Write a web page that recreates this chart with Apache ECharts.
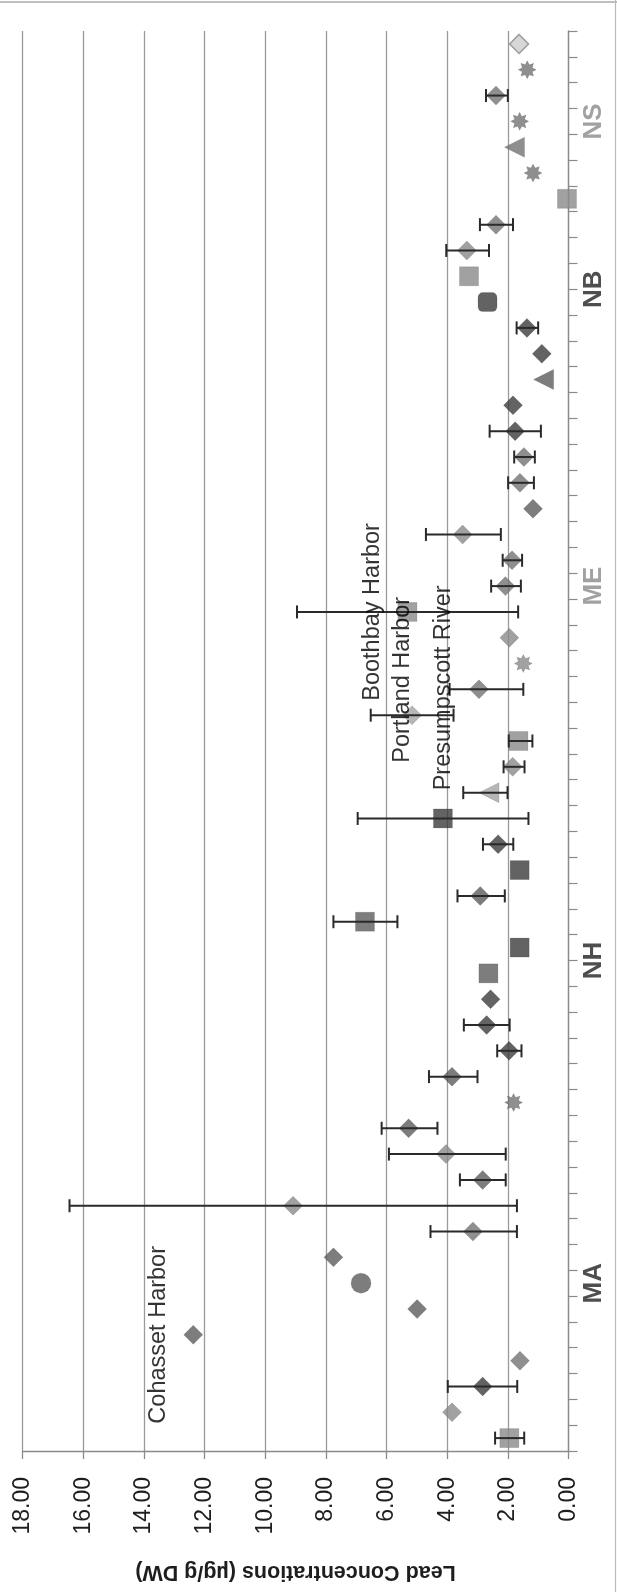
<!DOCTYPE html>
<html>
<head>
<meta charset="utf-8">
<script src="https://cdn.jsdelivr.net/npm/echarts@6/dist/echarts.min.js"></script>
<style>
html,body{margin:0;padding:0;background:#fff;}
#chart{width:617px;height:1592px;}
</style>
</head>
<body>
<div id="chart"></div>
<script>
// ---------- data ----------
const regions = ['MA', 'NH', 'ME', 'NB', 'NS'];
const regionSizes = [13, 12, 17, 6, 7];

// lead concentration (µg/g DW), one per site, MA first
const values = [
  1.95, 3.84, 2.83, 1.60, 12.37, 4.99, 6.84, 7.75, 3.15, 9.08, 2.83, 4.04, 5.27,
  1.81, 3.84, 1.96, 2.70, 2.57, 2.64, 1.61, 6.71, 2.91, 1.61, 2.32, 4.14,
  2.62, 1.84, 1.65, 5.16, 2.95, 1.49, 1.95, 5.31, 2.08, 1.86, 3.49, 1.17, 1.60, 1.47, 1.76, 1.83, 0.82,
  0.88, 1.37, 2.67, 3.28, 3.35, 2.39,
  0.05, 1.17, 1.78, 1.61, 2.39, 1.36, 1.63
];
// error bar ends (null = no error bar)
const errLow = [
  1.46, null, 1.69, null, null, null, null, null, 1.70, 1.70, 2.07, 2.07, 4.32,
  null, 3.00, 1.55, 1.94, null, null, null, 5.64, 2.10, null, 1.82, 1.32,
  2.01, 1.45, 1.19, 3.79, 1.49, null, null, 1.66, 1.57, 1.53, 2.23, null, 1.14, 1.11, 0.91, null, null,
  null, 1.00, null, null, 2.62, 1.83,
  null, null, null, null, 2.00, null, null
];
const errHigh = [
  2.42, null, 3.98, null, null, null, null, null, 4.55, 16.45, 3.58, 5.92, 6.16,
  null, 4.60, 2.35, 3.45, null, null, null, 7.75, 3.66, null, 2.82, 6.95,
  3.47, 2.14, 1.97, 6.52, 3.92, null, null, 8.95, 2.55, 2.17, 4.70, null, 1.99, 1.79, 2.60, null, null,
  null, 1.71, null, null, 4.03, 2.92,
  null, null, null, null, 2.72, null, null
];
// marker kind per site: d diamond, s square, r rounded square, c circle, t triangle, * star
const markerKind = [
  's','d','d','d','d','d','c','d','d','d','d','d','d',
  '*','d','d','d','d','s','s','s','d','s','d','s',
  't','d','s','d','d','*','d','s','d','d','d','d','d','d','d','d','t',
  'd','d','r','s','d','d',
  's','*','t','*','d','*','d'
];
// marker tone group per site
const markerTone = [
  'L','L','D','G','M','M','M','M','G','L','M','L','M',
  'G','M','D','D','D','M','D','M','M','D','D','D',
  'P','L','L','P','G','L','L','L','G','G','L','M','G','G','D','D','M',
  'D','D','D','L','L','G',
  'L','G','G','G','G','G','W'
];
const valueMin = 0, valueMax = 18, valueStep = 2;
const axisTitle = 'Lead Concentrations (µg/g DW)';
const annotations = [
  { text: 'Cohasset Harbor', value: 13.5, site: 4 },
  { text: 'Boothbay Harbor', value: 6.45, site: 32 },
  { text: 'Portland Harbor', value: 5.46, site: 29.37 },
  { text: 'Presumpscott River', value: 4.11, site: 29.06 }
];

// ---------- build ----------
const sites = [];
const regionCenters = [];
let start = 0;
regions.forEach((r, k) => {
  for (let j = 0; j < regionSizes[k]; j++) sites.push(r + '-' + (j + 1));
  regionCenters.push(start + (regionSizes[k] - 1) / 2);
  start += regionSizes[k];
});

const toneColor = { D: '#3c3c3c', M: '#5c5c5c', G: '#737373', L: '#8a8a8a', P: '#a4a4a4', W: '#cdcdcd' };
const starPath = 'path://M50 0L61.5 22.3L85.4 14.6L77.7 38.5L100 50L77.7 61.5L85.4 85.4L61.5 77.7L50 100L38.5 77.7L14.6 85.4L22.3 61.5L0 50L22.3 38.5L14.6 14.6L38.5 22.3Z';
const symbolOf = { d: 'diamond', s: 'rect', r: 'roundRect', c: 'circle', t: 'triangle', '*': starPath };
const sizeOf = { d: 19, s: 19, r: 19, c: 20, t: 20, '*': 18 };

const pointData = values.map((v, i) => {
  const k = markerKind[i];
  const tone = markerTone[i];
  return {
    value: [v, i],
    symbol: symbolOf[k],
    symbolSize: sizeOf[k],
    symbolRotate: k === 't' ? 90 : 0,
    itemStyle: {
      color: toneColor[tone],
      borderColor: tone === 'W' ? '#8a8a8a' : 'rgba(0,0,0,0.15)',
      borderWidth: tone === 'W' ? 1.5 : 1
    }
  };
});
const errData = [];
values.forEach((v, i) => {
  if (errLow[i] != null && errHigh[i] != null) errData.push([errLow[i], errHigh[i], i]);
});

const regionColor = { MA: '#222', NH: '#222', ME: '#8a8a8a', NB: '#222', NS: '#8a8a8a' };
const regionData = regions.map((r, k) => ({
  value: [-0.85, regionCenters[k]],
  label: { formatter: r, color: regionColor[r] }
}));
const noteData = annotations.map(a => ({ value: [a.value, a.site], label: { formatter: a.text } }));

const chart = echarts.init(document.getElementById('chart'), null, { renderer: 'canvas' });
chart.setOption({
  backgroundColor: '#fff',
  animation: false,
  grid: { left: 22.5, right: 48.5, top: 31, bottom: 141 },
  xAxis: {
    type: 'value',
    inverse: true,
    min: valueMin, max: valueMax, interval: valueStep,
    position: 'bottom',
    axisLine: { show: true, onZero: false, lineStyle: { color: '#8a8a8a', width: 1.3 } },
    axisTick: { show: true, length: 8, lineStyle: { color: '#8a8a8a', width: 1.3 } },
    splitLine: { show: true, lineStyle: { color: '#9a9a9a', width: 1.3 } },
    axisLabel: {
      rotate: 90, margin: 26, fontSize: 23, color: '#1e1e1e',
      fontFamily: 'Liberation Sans',
      formatter: v => v.toFixed(2)
    },
    name: axisTitle,
    nameLocation: 'middle',
    nameRotate: 180,
    nameGap: 110,
    nameTextStyle: { fontSize: 21.5, fontWeight: 'bold', color: '#1e1e1e', fontFamily: 'Liberation Sans' }
  },
  yAxis: [
    {
      type: 'category',
      data: sites,
      boundaryGap: true,
      position: 'right',
      axisLine: { show: true, onZero: false, lineStyle: { color: '#8a8a8a', width: 1.3 } },
      axisTick: { show: true, interval: 0, length: 9, lineStyle: { color: '#8a8a8a', width: 1.2 } },
      axisLabel: { show: false },
      splitLine: { show: false }
    },
    {
      type: 'value',
      min: -0.5, max: sites.length - 0.5,
      show: false,
      splitLine: { show: false }
    }
  ],
  series: [
    {
      type: 'scatter',
      name: 'sites',
      xAxisIndex: 0, yAxisIndex: 0,
      data: pointData,
      z: 3
    },
    {
      type: 'custom',
      name: 'error',
      xAxisIndex: 0, yAxisIndex: 0,
      data: errData,
      encode: { x: [0, 1], y: 2 },
      z: 4,
      renderItem: function (params, api) {
        const a = api.coord([api.value(0), api.value(2)]);
        const b = api.coord([api.value(1), api.value(2)]);
        const c = 6.5;
        const st = { stroke: '#2a2a2a', lineWidth: 2 };
        return {
          type: 'group',
          children: [
            { type: 'line', shape: { x1: a[0], y1: a[1], x2: b[0], y2: b[1] }, style: st },
            { type: 'line', shape: { x1: a[0], y1: a[1] - c, x2: a[0], y2: a[1] + c }, style: st },
            { type: 'line', shape: { x1: b[0], y1: b[1] - c, x2: b[0], y2: b[1] + c }, style: st }
          ]
        };
      }
    },
    {
      type: 'scatter',
      name: 'regions',
      xAxisIndex: 0, yAxisIndex: 1,
      symbolSize: 0,
      clip: false,
      silent: true,
      data: regionData,
      label: {
        show: true, position: 'inside', rotate: 90,
        fontSize: 26, fontWeight: 'bold', fontFamily: 'Liberation Sans'
      },
      z: 5
    },
    {
      type: 'scatter',
      name: 'notes',
      xAxisIndex: 0, yAxisIndex: 1,
      symbolSize: 0,
      clip: false,
      silent: true,
      data: noteData,
      label: {
        show: true, position: 'inside', rotate: 90,
        fontSize: 23.5, color: '#000', fontFamily: 'Liberation Sans'
      },
      z: 5
    }
  ],
  graphic: [
    { type: 'line', shape: { x1: 0, y1: 2, x2: 617, y2: 2 }, style: { stroke: '#aaa', lineWidth: 1.5 } },
    { type: 'line', shape: { x1: 615.5, y1: 0, x2: 615.5, y2: 1592 }, style: { stroke: '#bbb', lineWidth: 1.2 } }
  ]
});
</script>
</body>
</html>
